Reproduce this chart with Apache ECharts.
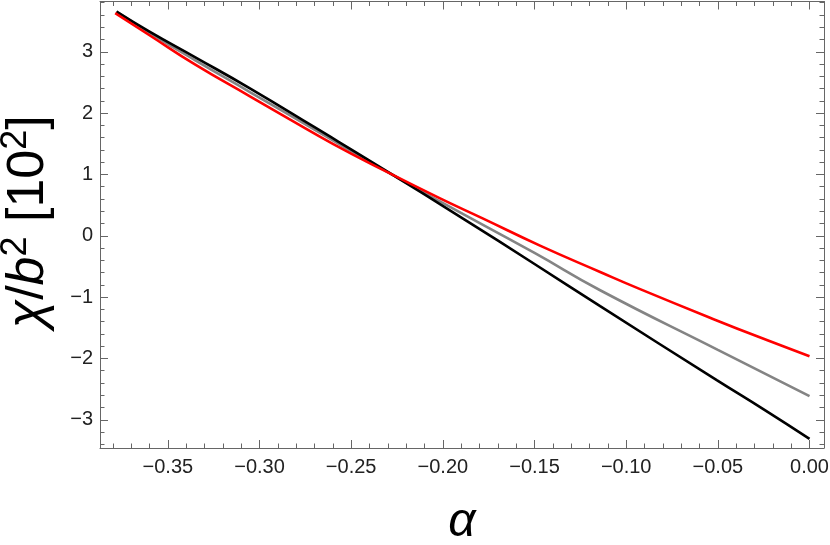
<!DOCTYPE html>
<html>
<head>
<meta charset="utf-8">
<script src="https://cdn.jsdelivr.net/npm/echarts@6/dist/echarts.min.js"></script>
<style>
html,body{margin:0;padding:0;background:#fff;}
#chart{width:830px;height:545px;}
</style>
</head>
<body>
<div id="chart"></div>
<script>
// ---- data ----
const blackAlpha = [-0.378, -0.36, -0.335, -0.305, -0.27, -0.232, -0.189, -0.15, -0.1142, -0.0506, -0.025, 0.0];
const blackChi   = [3.656, 3.33, 2.91, 2.40, 1.77, 1.08, 0.28, -0.46, -1.148, -2.353, -2.83, -3.31];

const grayAlpha = [-0.378, -0.36, -0.335, -0.305, -0.27, -0.232, -0.2016, -0.15, -0.1142, -0.05, 0.0];
const grayChi   = [3.656, 3.31, 2.86, 2.34, 1.73, 1.07, 0.56, -0.28, -0.888, -1.86, -2.614];

const redAlpha = [-0.3787, -0.36, -0.335, -0.305, -0.2842, -0.26, -0.2324, -0.2015, -0.178, -0.147, -0.1142, -0.0924, -0.0506, -0.0233, 0.0];
const redChi   = [3.63, 3.27, 2.79, 2.27, 1.91, 1.50, 1.07, 0.61, 0.28, -0.16, -0.59, -0.87, -1.38, -1.70, -1.963];

// ---- tick labels / tick positions ----
const xMajorTicks = [-0.35, -0.30, -0.25, -0.20, -0.15, -0.10, -0.05, 0.00];
const xMinorTicks = [-0.38, -0.37, -0.36, -0.34, -0.33, -0.32, -0.31, -0.29, -0.28, -0.27, -0.26,
                     -0.24, -0.23, -0.22, -0.21, -0.19, -0.18, -0.17, -0.16, -0.14, -0.13, -0.12, -0.11,
                     -0.09, -0.08, -0.07, -0.06, -0.04, -0.03, -0.02, -0.01];
const yMajorTicks = [-3, -2, -1, 0, 1, 2, 3];
const yMinorTicks = [-3.4, -3.2, -2.8, -2.6, -2.4, -2.2, -1.8, -1.6, -1.4, -1.2, -0.8, -0.6, -0.4, -0.2,
                     0.2, 0.4, 0.6, 0.8, 1.2, 1.4, 1.6, 1.8, 2.2, 2.4, 2.6, 2.8, 3.2, 3.4, 3.6, 3.8];

const xRange = [-0.387, 0.0079];
const yRange = [-3.46, 3.82];

function pairs(xs, ys) { return xs.map((x, i) => [x, ys[i]]); }

const FRAME = '#666666';
const FONT = 'Liberation Sans';
const LABEL_SIZE = 20;
const TITLE_SIZE = 52;

function xAxisDef(position, ticks, len, labels, line) {
  return {
    type: 'value', position: position, min: xRange[0], max: xRange[1],
    axisLine: { show: line, onZero: false, lineStyle: { color: FRAME, width: 1 } },
    axisTick: { show: true, inside: true, length: len, customValues: ticks, lineStyle: { color: FRAME, width: 1 } },
    axisLabel: labels ? {
      show: true, customValues: ticks, margin: 9, color: '#222', fontFamily: FONT, fontSize: LABEL_SIZE,
      formatter: v => v.toFixed(2).replace('-', '\u2212')
    } : { show: false },
    splitLine: { show: false }
  };
}
function yAxisDef(position, ticks, len, labels, line) {
  return {
    type: 'value', position: position, min: yRange[0], max: yRange[1],
    axisLine: { show: line, onZero: false, lineStyle: { color: FRAME, width: 1 } },
    axisTick: { show: true, inside: true, length: len, customValues: ticks, lineStyle: { color: FRAME, width: 1 } },
    axisLabel: labels ? {
      show: true, customValues: ticks, margin: 7, color: '#222', fontFamily: FONT, fontSize: LABEL_SIZE,
      formatter: v => String(v).replace('-', '\u2212')
    } : { show: false },
    splitLine: { show: false }
  };
}

const xAxes = [
  xAxisDef('bottom', xMajorTicks, 8, true, true),
  xAxisDef('bottom', xMinorTicks, 4.5, false, false),
  xAxisDef('top', xMajorTicks, 8, false, true),
  xAxisDef('top', xMinorTicks, 4.5, false, false)
];
xAxes[0].name = '{i|\u03b1}';
xAxes[0].nameLocation = 'middle';
xAxes[0].nameGap = 51;
xAxes[0].nameTextStyle = { rich: { i: { fontFamily: FONT, fontSize: 48, fontStyle: 'italic', color: '#000' } } };

const yAxes = [
  yAxisDef('left', yMajorTicks, 8, true, true),
  yAxisDef('left', yMinorTicks, 4.5, false, false),
  yAxisDef('right', yMajorTicks, 8, false, true),
  yAxisDef('right', yMinorTicks, 4.5, false, false)
];
yAxes[0].name = '{i|\u03c7}{c|/}{i|b}{s|2}{c| [10}{s|2}{c|]}';
yAxes[0].nameLocation = 'middle';
yAxes[0].nameRotate = 90;
yAxes[0].nameGap = 42;
yAxes[0].nameTextStyle = {
  padding: [0, 0, 0, 6],
  rich: {
    c: { fontFamily: FONT, fontSize: TITLE_SIZE, color: '#000', lineHeight: 56 },
    i: { fontFamily: FONT, fontSize: TITLE_SIZE, fontStyle: 'italic', color: '#000', lineHeight: 56 },
    s: { fontFamily: FONT, fontSize: 36, color: '#000', lineHeight: 56, padding: [0, 0, 25, 0] }
  }
};

const chart = echarts.init(document.getElementById('chart'), null, { renderer: 'canvas' });
chart.setOption({
  animation: false,
  backgroundColor: '#fff',
  grid: { left: 100, top: 1.5, width: 724, height: 446.5, containLabel: false, outerBoundsMode: 'none' },
  xAxis: xAxes,
  yAxis: yAxes,
  series: [
    { type: 'line', name: 'gray', data: pairs(grayAlpha, grayChi), showSymbol: false, smooth: true,
      lineStyle: { color: '#848484', width: 2.6 }, xAxisIndex: 0, yAxisIndex: 0 },
    { type: 'line', name: 'black', data: pairs(blackAlpha, blackChi), showSymbol: false, smooth: true,
      lineStyle: { color: '#000000', width: 2.6 }, xAxisIndex: 0, yAxisIndex: 0 },
    { type: 'line', name: 'red', data: pairs(redAlpha, redChi), showSymbol: false, smooth: true,
      lineStyle: { color: '#ff0000', width: 2.6 }, xAxisIndex: 0, yAxisIndex: 0 }
  ]
});
</script>
</body>
</html>
